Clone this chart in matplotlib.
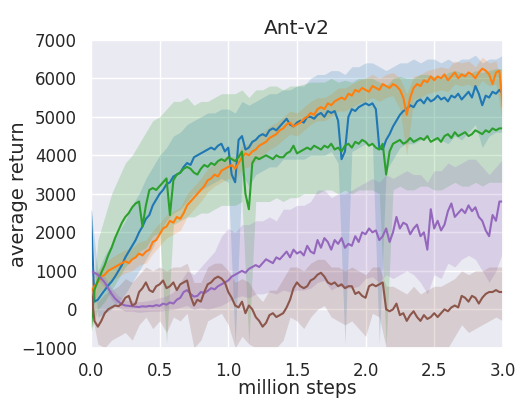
import numpy as np
import seaborn as sns
from matplotlib import pyplot as plt

# mean curves, one value every 0.025 million steps (121 points)
steps = np.linspace(0.0, 3.0, 121)

blue_mean = [
    2550, 200, 250, 380, 500, 620, 720, 850, 1000, 1150,
    1350, 1500, 1650, 1800, 2000, 2150, 2350, 2450, 2700, 2850,
    3000, 3100, 3250, 3300, 3450, 3500, 3550, 3700, 3800, 3750,
    3950, 4000, 4050, 4100, 4150, 4200, 4150, 4250, 4300, 4100,
    4200, 3500, 3300, 4400, 4500, 4150, 4200, 4350, 4400, 4500,
    4550, 4500, 4650, 4700, 4650, 4750, 4850, 4950, 4800, 4750,
    4850, 4900, 4850, 5000, 5000, 4950, 5050, 5100, 5000, 5150,
    5100, 5150, 4900, 3900, 4100, 5000, 5200, 5150, 5250, 5300,
    5350, 5300, 5350, 5200, 4200, 4150, 4400, 4550, 4750, 4900,
    5050, 5150, 5200, 5300, 5250, 5400, 5450, 5350, 5500, 5400,
    5450, 5550, 5450, 5500, 5400, 5550, 5500, 5600, 5450, 5550,
    5650, 5500, 5800, 5600, 5300, 5550, 5500, 5650, 5600, 5700,
    5600,
]
orange_mean = [
    450, 600, 700, 850, 900, 1000, 1050, 1100, 1150, 1200,
    1250, 1200, 1300, 1350, 1450, 1400, 1500, 1550, 1750, 1800,
    1950, 2100, 2150, 2300, 2250, 2400, 2350, 2500, 2700, 2800,
    2900, 3000, 3100, 3200, 3350, 3400, 3500, 3450, 3600, 3650,
    3700, 3750, 3650, 3800, 3950, 4050, 4000, 4100, 4150, 4250,
    4300, 4350, 4450, 4500, 4550, 4650, 4700, 4800, 4850, 4750,
    4800, 4850, 4950, 5000, 5100, 5050, 5200, 5250, 5200, 5350,
    5300, 5400, 5450, 5500, 5450, 5600, 5550, 5700, 5650, 5750,
    5700, 5650, 5800, 5750, 5700, 5850, 5800, 5750, 5850, 5800,
    5700, 5500, 5050, 5500, 5750, 5850, 5800, 5950, 5900, 6050,
    5950, 6050, 6000, 6100, 5950, 6050, 6150, 6000, 6100, 6050,
    6150, 6100, 6000, 6150, 6250, 6200, 6100, 5850, 6150, 6200,
    5250,
]
green_mean = [
    -450, 500, 750, 950, 1150, 1400, 1600, 1850, 2050, 2250,
    2400, 2500, 2650, 2750, 2800, 2150, 2700, 3100, 3150, 3100,
    3200, 3300, 3400, 2450, 3350, 3500, 3550, 3650, 3700, 3650,
    3550, 3500, 3650, 3750, 3700, 3800, 3750, 3850, 3900, 3850,
    3950, 3900, 3850, 3950, 4100, 3000, 2600, 3800, 3950, 3900,
    3950, 4000, 3950, 3900, 4000, 3950, 3950, 4050, 4100, 4250,
    4050, 4100, 4150, 4200, 4150, 4250, 4200, 4150, 4250, 4200,
    4300, 4150, 4200, 4100, 4250, 4300, 4200, 4350, 4300, 4400,
    4350, 4250, 4300, 4200, 4150, 4300, 3500, 4100, 4300, 4350,
    4400, 4300, 4350, 4450, 4350, 4400, 4450, 4400, 4500, 4350,
    4400, 4450, 4350, 4500, 4550, 4450, 4600, 4500, 4550, 4600,
    4500, 4550, 4650, 4600, 4550, 4650, 4600, 4700, 4650, 4700,
    4700,
]
purple_mean = [
    980, 950, 900, 800, 700, 550, 400, 280, 200, 130,
    100, 90, 80, 70, 60, 80, 70, 90, 80, 110,
    90, 150, 120, 180, 150, 250, 300, 450, 500, 400,
    330, 350, 450, 420, 480, 550, 520, 600, 650, 700,
    750, 850, 900, 950, 1000, 950, 1050, 1100, 1150, 1100,
    1200, 1300, 1250, 1200, 1350, 1300, 1400, 1500, 1350, 1550,
    1450, 1500, 1400, 1650, 1500, 1450, 1800, 1600, 1850, 1750,
    1550, 1800, 1700, 1850, 1600, 1700, 1650, 1900, 1750, 2000,
    1950, 2100, 2000, 2050, 1800, 1900, 2100, 1750, 2000, 2400,
    2100, 2250, 2200, 1950, 2100, 2200, 1900, 2000, 1550, 2600,
    2100, 2300, 2050, 2200, 2550, 2750, 2400, 2500, 2600, 2500,
    2700, 2550, 2650, 2400, 2300, 2050, 1900, 2450, 2300, 2800,
    2800,
]
brown_mean = [
    550, -300, -450, -300, -100, 0, 50, 100, 80, 150,
    300, 350, 100, 150, 450, 550, 700, 500, 450, 600,
    650, 750, 550, 600, 700, 500, 650, 700, 750, 350,
    100, 250, 200, 450, 650, 700, 800, 850, 800, 700,
    450, 300, 100, 50, 200, -100, 100, 0, -200, -300,
    -450, -350, -150, -100, -200, -150, -100, 50, 250, 550,
    700, 600, 550, 600, 750, 800, 900, 950, 850, 700,
    650, 700, 600, 650, 550, 600, 600, 400, 450, 350,
    300, 600, 650, 600, 650, 700, 0, -50, 0, 150,
    -150, -100, -300, -150, -50, -200, -300, -150, -250, -200,
    -100, -200, -100, 0, -50, 50, 100, 50, 350, 300,
    200, 350, 300, 150, 300, 400, 450, 450, 500, 450,
    450,
]

# shaded bands, one value every 0.05 million steps (61 points)
band_steps = np.linspace(0.0, 3.0, 61)

blue_hi = [
    2600, 1000, 1400, 1700, 2000, 2300, 2700, 3000, 3400, 3700,
    4000, 4200, 4500, 4600, 4800, 4900, 5000, 5100, 5100, 5200,
    5200, 5100, 5400, 5300, 5400, 5500, 5600, 5600, 5700, 5700,
    5800, 5800, 6000, 6100, 6100, 6200, 6200, 6100, 6300, 6300,
    6400, 6400, 6300, 6200, 6300, 6400, 6400, 6500, 6400, 6500,
    6500, 6400, 6500, 6400, 6500, 6500, 6600, 6400, 6500, 6500,
    6600,
]
blue_lo = [
    2500, -200, -100, 0, 200, 400, 700, 1000, 1300, 1600,
    2000, 2300, 2500, 2600, 2800, 3000, 3100, 3200, 3300, 3400,
    3300, -900, 3500, 3200, 3500, 3600, 3700, 3700, 3900, 3900,
    3900, 3900, 4000, 4000, 4000, 4100, 3800, -900, 4100, 4200,
    4300, 4300, -900, 3600, 3900, 4200, 4300, 4300, 4400, 4500,
    4400, 4400, 4300, 4500, 4400, 4600, 4800, 4200, 4500, 4600,
    4600,
]
orange_hi = [
    750, 1000, 1200, 1350, 1450, 1550, 1600, 1750, 1800, 2050,
    2250, 2450, 2550, 2650, 3000, 3200, 3400, 3650, 3800, 3900,
    4000, 3950, 4250, 4300, 4450, 4600, 4750, 4850, 5000, 5150,
    5100, 5250, 5400, 5500, 5500, 5600, 5750, 5750, 5850, 5950,
    6000, 6100, 6000, 6100, 6150, 6000, 5600, 6050, 6100, 6200,
    6250, 6300, 6250, 6450, 6400, 6450, 6300, 6550, 6400, 6450,
    5700,
]
orange_lo = [
    150, 400, 600, 750, 850, 950, 1000, 1150, 1200, 1450,
    1650, 1850, 1950, 2050, 2400, 2600, 2800, 3050, 3200, 3300,
    3400, 3350, 3650, 3700, 3850, 4000, 4150, 4250, 4400, 4550,
    4500, 4650, 4800, 4900, 4900, 5000, 5150, 5150, 5250, 5350,
    5400, 5500, 5400, 5500, 5550, 5200, 4000, 5450, 5500, 5600,
    5650, 5700, 5650, 5850, 5800, 5850, 5700, 5950, 5800, 5850,
    4800,
]
green_hi = [
    -300, 1800, 2400, 3000, 3400, 3800, 4000, 4300, 4600, 4900,
    5000, 5200, 5400, 5400, 5500, 5300, 5400, 5400, 5500, 5600,
    5600, 5600, 5700, 5500, 5700, 5700, 5800, 5800, 5700, 5800,
    5800, 5850, 5900, 5900, 5900, 6000, 5900, 5950, 5900, 6000,
    6000, 6000, 5900, 5800, 6000, 6050, 6000, 6000, 6100, 6100,
    6050, 6000, 6150, 6200, 6150, 6100, 6200, 6150, 6200, 6250,
    6250,
]
green_lo = [
    -600, 0, 200, 500, 800, 1100, 1300, 1500, 1600, 1900,
    2000, -900, 2200, 2300, 2400, 2400, 2500, 2500, 2600, 2700,
    2700, 2700, 2800, -900, 2800, 2800, 2800, 2900, 2800, 2900,
    2900, 3000, 3000, 3000, 3100, 3100, 3000, 3100, 3000, 3100,
    3100, 3100, 3000, -900, 3100, 3200, 3100, 3100, 3200, 3200,
    3100, 3100, 3200, 3300, 3200, 3200, 3300, 3200, 3300, 3300,
    3300,
]
purple_hi = [
    1050, 1000, 850, 550, 350, 250, 220, 200, 220, 250,
    300, 350, 450, 700, 1000, 900, 1100, 1300, 1500, 1900,
    2100, 2000, 2200, 2200, 2300, 2300, 2400, 2300, 2600, 2600,
    2700, 2700, 2800, 3100, 3100, 2900, 3000, 3000, 3100, 3200,
    3300, 3400, 3300, 3500, 3400, 3500, 3600, 3500, 3500, 3300,
    3600, 3600, 3800, 3700, 3800, 3900, 3900, 3700, 3500, 3700,
    3900,
]
purple_lo = [
    900, 800, 550, 250, 50, -50, -50, -80, -60, -50,
    -50, -20, 0, 50, 100, 0, 50, 0, 50, 100,
    200, 300, 350, 300, 400, 400, 450, 400, 500, 450,
    500, 500, 550, 700, 750, 500, 600, 550, 550, 600,
    800, 850, 700, 900, 800, 900, 1000, 900, 700, 400,
    900, 800, 1200, 1100, 1300, 1400, 1300, 1000, 700, 1000,
    1500,
]
brown_hi = [
    1100, 200, 400, 500, 600, 800, 700, 900, 1100, 1000,
    1100, 1000, 1100, 1100, 1200, 700, 700, 1100, 1200, 1200,
    1000, 700, 800, 700, 400, 200, 500, 500, 800, 1100,
    1100, 1000, 1200, 1300, 1300, 1100, 1100, 1000, 1100, 1000,
    900, 1100, 1100, 600, 600, 500, 400, 600, 400, 500,
    600, 600, 700, 800, 1000, 900, 1000, 1000, 1100, 1100,
    1100,
]
brown_lo = [
    0, -900, -1000, -800, -700, -600, -800, -400, -200, -500,
    -300, -600, -200, -300, -100, -1000, -800, -300, -200, -100,
    -400, -1000, -700, -900, -1000, -1000, -1000, -1000, -800, -200,
    -300, -500, -200, 0, 100, -200, -300, -400, -300, -500,
    -700, -100, -200, -1000, -1000, -1000, -1000, -1000, -1000, -1000,
    -1000, -1000, -1000, -700, -400, -600, -500, -400, -300, -200,
    -300,
]

palette = sns.color_palette()
series = [
    (blue_mean, blue_lo, blue_hi, palette[0]),
    (orange_mean, orange_lo, orange_hi, palette[1]),
    (green_mean, green_lo, green_hi, palette[2]),
    (purple_mean, purple_lo, purple_hi, palette[4]),
    (brown_mean, brown_lo, brown_hi, palette[5]),
]

sns.set_theme(style='darkgrid')
fig = plt.figure(figsize=(5.2, 3.98), dpi=100)
ax = fig.add_axes([0.175, 0.126, 0.792, 0.774])

for mean, lo, hi, color in series:
    ax.fill_between(band_steps, lo, hi, color=color, alpha=0.2, linewidth=0)
for mean, lo, hi, color in series:
    ax.plot(steps, mean, color=color, linewidth=1.5)

ax.set_xlim(0.0, 3.0)
ax.set_ylim(-1000, 7000)
ax.set_xticks(np.arange(0.0, 3.01, 0.5))
ax.set_yticks(np.arange(-1000, 7001, 1000))
ax.tick_params(labelsize=12, length=0, pad=10)
ax.set_title('Ant-v2', fontsize=14.5, pad=4.5)
ax.set_xlabel('million steps', fontsize=13.5)
ax.set_ylabel('average return', fontsize=14)
ax.xaxis.set_label_coords(0.5, -0.1)
ax.yaxis.set_label_coords(-0.153, 0.5)

fig.savefig('out.png', dpi=100)
